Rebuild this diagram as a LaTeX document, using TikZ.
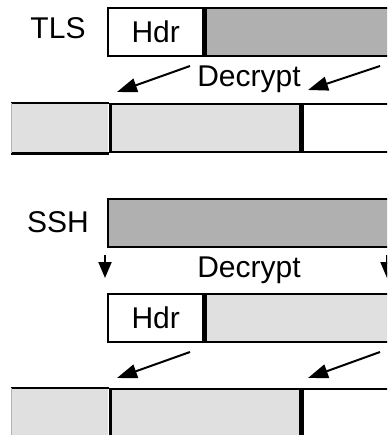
\documentclass[tikz,border=0pt]{standalone}
\usepackage{fontspec}
\setmainfont{Liberation Sans}
\usetikzlibrary{arrows.meta,positioning}
\definecolor{cipher}{HTML}{B0B0B0}
\definecolor{plain}{HTML}{E0E0E0}

\begin{document}
\begin{tikzpicture}[x=1pt,y=-1pt,
    cell/.style={draw, line width=2.4pt, minimum height=48pt, inner sep=0pt,
      anchor=north west, font=\fontsize{30}{32}\selectfont},
    lbl/.style={font=\fontsize{30}{32}\selectfont},
    arr/.style={-{Triangle[length=20pt,width=14pt]}, line width=2pt}]
    \useasboundingbox (0,0) rectangle (387,435);
    \clip (0,0) rectangle (387,435);

    % TLS record
    \node[lbl, anchor=base] (tls) at (58,39) {TLS};
    \node[cell, minimum width=95pt] (tlshdr) at (107,7) {Hdr};
    \node[cell, fill=cipher, minimum width=200pt, right=0pt of tlshdr] (tlsbody) {};

    \node[lbl, anchor=base] (tlsdec) at (249,87) {Decrypt};
    \coordinate (tlsa1) at (190,66);
    \coordinate (tlsb1) at (117,92);
    \coordinate (tlsa2) at (380,66);
    \coordinate (tlsb2) at (308,90);
    \draw[arr] (tlsa1) -- (tlsb1);
    \draw[arr] (tlsa2) -- (tlsb2);

    % TLS plaintext
    \node[cell, fill=plain, draw=none, minimum width=96pt] (tlsp1) at (11,103) {};
    \node[cell, fill=plain, minimum width=190pt, right=0pt of tlsp1] (tlsp2) {};
    \node[cell, minimum width=120pt, right=0pt of tlsp2] (tlsp3) {};
    \draw[line width=2.4pt] (tlsp1.north west) -- (tlsp2.north west);
    \draw[line width=2.4pt] (tlsp1.south west) -- (tlsp2.south west);
    \draw[plain!80!black, line width=1pt] (tlsp1.north west) -- (tlsp1.south west);

    % SSH record
    \node[lbl, anchor=base] (ssh) at (58,232) {SSH};
    \node[cell, fill=cipher, minimum width=300pt] (sshbody) at (107,198) {};

    \node[lbl, anchor=base] (sshdec) at (249,277) {Decrypt};
    \coordinate (ssha1) at (105,255);
    \coordinate (sshb1) at (105,278);
    \coordinate (ssha2) at (387,255);
    \coordinate (sshb2) at (387,278);
    \draw[arr, -{Triangle[length=16pt,width=13pt]}] (ssha1) -- (sshb1);
    \draw[arr, -{Triangle[length=16pt,width=13pt]}] (ssha2) -- (sshb2);

    \node[cell, minimum width=95pt] (sshhdr) at (107,293) {Hdr};
    \node[cell, fill=plain, minimum width=200pt, right=0pt of sshhdr] (sshrest) {};

    \coordinate (sshc1) at (190,352);
    \coordinate (sshd1) at (117,378);
    \coordinate (sshc2) at (380,352);
    \coordinate (sshd2) at (308,378);
    \draw[arr] (sshc1) -- (sshd1);
    \draw[arr] (sshc2) -- (sshd2);

    % SSH plaintext
    \node[cell, fill=plain, draw=none, minimum width=96pt, minimum height=60pt] (sshp1) at (11,388) {};
    \node[cell, fill=plain, minimum width=190pt, minimum height=60pt, right=0pt of sshp1] (sshp2) {};
    \node[cell, minimum width=120pt, minimum height=60pt, right=0pt of sshp2] (sshp3) {};
    \draw[line width=2.4pt] (sshp1.north west) -- (sshp2.north west);
    \draw[plain!80!black, line width=1pt] (sshp1.north west) -- (sshp1.south west);
\end{tikzpicture}
\end{document}
